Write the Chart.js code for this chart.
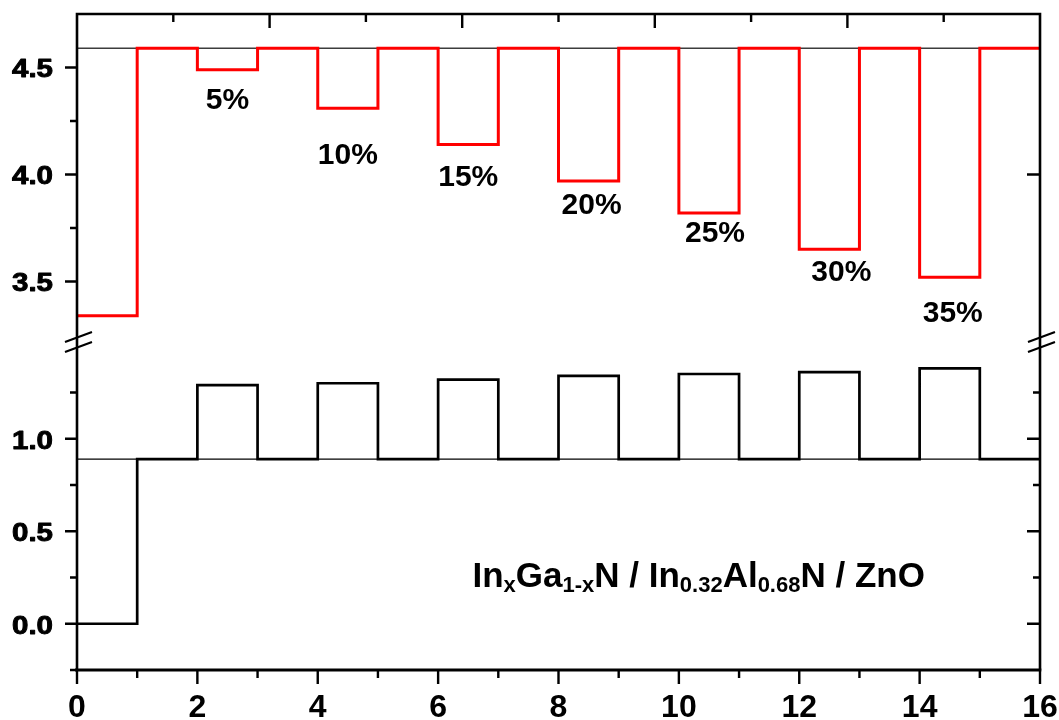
<!DOCTYPE html>
<html>
<head>
<meta charset="utf-8">
<script src="https://cdn.jsdelivr.net/npm/chart.js@4/dist/chart.umd.min.js"></script>
<style>
  html, body { margin: 0; padding: 0; background: #fff; }
  #wrap { width: 1059px; height: 720px; position: relative; }
</style>
</head>
<body>
<div id="wrap"><canvas id="c" width="1059" height="720"></canvas></div>
<script>
// Layer boundaries along the structure (x) and the band level of each layer
const layerEdges = [0, 1, 2, 3, 4, 5, 6, 7, 8, 9, 10, 11, 12, 13, 14, 15, 16];
const conductionBand = [3.34, 4.59, 4.49, 4.59, 4.31, 4.59, 4.14, 4.59, 3.97, 4.59, 3.82, 4.59, 3.65, 4.59, 3.52, 4.59];
const valenceBand = [0.00, 0.89, 1.29, 0.89, 1.30, 0.89, 1.32, 0.89, 1.34, 0.89, 1.35, 0.89, 1.36, 0.89, 1.38, 0.89];
const conductionRef = 4.59;
const valenceRef = 0.89;

// Indium content labels placed under each well
const wellLabels = ['5%', '10%', '15%', '20%', '25%', '30%', '35%'];
const wellLabelX = [2.5, 4.5, 6.5, 8.55, 10.6, 12.7, 14.55];
const wellLabelY = [4.35, 4.09, 3.99, 3.86, 3.73, 3.545, 3.355];

// Tick labels
const xTickLabels = ['0', '2', '4', '6', '8', '10', '12', '14', '16'];
const xMinorTicks = [1, 3, 5, 7, 9, 11, 13, 15];
const upperTickLabels = ['3.5', '4.0', '4.5'];
const upperMinorTicks = [3.75, 4.25];
const lowerTickLabels = ['0.0', '0.5', '1.0'];
const lowerMinorTicks = [-0.25, 0.25, 0.75, 1.25];
const topMajorTicks = [2, 4, 6, 8];
const topMinorTicks = [1, 3, 5, 7, 9];
const rightUpperTicks = [4.0];

// Structure caption anchor (lower panel coordinates)
const captionX = 6.57;
const captionY = 0.196;

function stepPoints(edges, values) {
  const pts = values.map((v, i) => ({ x: edges[i], y: v }));
  pts.push({ x: edges[edges.length - 1], y: values[values.length - 1] });
  return pts;
}

const FONT = '"Liberation Sans", Arial, sans-serif';

const framePlugin = {
  id: 'frame',
  afterDatasetsDraw(chart) {
    const ctx = chart.ctx;
    const a = chart.chartArea;
    const sx = chart.scales.x, sxt = chart.scales.xTop;
    const yt = chart.scales.yTop, yb = chart.scales.yBot;
    ctx.save();
    ctx.strokeStyle = '#000';
    ctx.lineCap = 'butt';

    // frame
    ctx.lineWidth = 2.6;
    ctx.beginPath();
    ctx.moveTo(a.left, a.top); ctx.lineTo(a.right, a.top);
    ctx.moveTo(a.left, a.top - 1.3); ctx.lineTo(a.left, a.bottom);
    ctx.moveTo(a.right, a.top - 1.3); ctx.lineTo(a.right, a.bottom);
    ctx.stroke();
    ctx.lineWidth = 3.2;
    ctx.beginPath();
    ctx.moveTo(a.left - 2, a.bottom); ctx.lineTo(a.right + 1.3, a.bottom);
    ctx.stroke();

    ctx.lineWidth = 2.4;
    const tick = (x1, y1, x2, y2) => { ctx.moveTo(x1, y1); ctx.lineTo(x2, y2); };
    ctx.beginPath();
    // bottom ticks (outward)
    xTickLabels.forEach(l => { const p = sx.getPixelForValue(parseFloat(l)); tick(p, a.bottom, p, a.bottom + 14); });
    xMinorTicks.forEach(v => { const p = sx.getPixelForValue(v); tick(p, a.bottom, p, a.bottom + 8); });
    // top ticks (inward)
    topMajorTicks.forEach(v => { const p = sxt.getPixelForValue(v); tick(p, a.top, p, a.top + 14); });
    topMinorTicks.forEach(v => { const p = sxt.getPixelForValue(v); tick(p, a.top, p, a.top + 8); });
    // left ticks (outward)
    upperTickLabels.forEach(l => { const p = yt.getPixelForValue(parseFloat(l)); tick(a.left - 12, p, a.left, p); });
    upperMinorTicks.forEach(v => { const p = yt.getPixelForValue(v); tick(a.left - 7, p, a.left, p); });
    lowerTickLabels.forEach(l => { const p = yb.getPixelForValue(parseFloat(l)); tick(a.left - 12, p, a.left, p); });
    lowerMinorTicks.forEach(v => { const p = yb.getPixelForValue(v); tick(a.left - 7, p, a.left, p); });
    // right ticks (inward)
    rightUpperTicks.forEach(v => { const p = yt.getPixelForValue(v); tick(a.right - 13, p, a.right, p); });
    lowerTickLabels.forEach(l => { const p = yb.getPixelForValue(parseFloat(l)); tick(a.right - 13, p, a.right, p); });
    lowerMinorTicks.forEach(v => { const p = yb.getPixelForValue(v); if (v > yb.min) tick(a.right - 7, p, a.right, p); });
    ctx.stroke();

    // axis break marks
    const by = yt.bottom;
    ctx.lineWidth = 2.2;
    ctx.beginPath();
    [a.left + 1, a.right + 1].forEach(cx => {
      tick(cx - 13, by + 0, cx + 14, by - 10);
      tick(cx - 13, by + 10, cx + 14, by + 0);
    });
    ctx.stroke();

    // tick labels (y labels are set wide and heavy)
    ctx.fillStyle = '#000';
    ctx.font = 'bold 25px ' + FONT;
    ctx.textAlign = 'right';
    ctx.textBaseline = 'alphabetic';
    ctx.lineWidth = 0.9;
    ctx.lineJoin = 'round';
    const yLabel = (text, py) => {
      ctx.save();
      ctx.translate(a.left - 24, py + 10);
      ctx.scale(1.18, 1);
      ctx.fillText(text, 0, 0);
      ctx.strokeText(text, 0, 0);
      ctx.restore();
    };
    upperTickLabels.forEach(l => yLabel(l, yt.getPixelForValue(parseFloat(l))));
    lowerTickLabels.forEach(l => yLabel(l, yb.getPixelForValue(parseFloat(l))));

    ctx.font = 'bold 32px ' + FONT;
    ctx.textAlign = 'center';
    xTickLabels.forEach(l => ctx.fillText(l, sx.getPixelForValue(parseFloat(l)), 717));

    // well labels
    ctx.font = 'bold 30px ' + FONT;
    ctx.textAlign = 'center';
    ctx.textBaseline = 'middle';
    wellLabels.forEach((t, i) => ctx.fillText(t, sx.getPixelForValue(wellLabelX[i]), yt.getPixelForValue(wellLabelY[i]) + 1));

    // structure caption with subscripts
    const parts = [
      ['In', false], ['x', true], ['Ga', false], ['1-x', true], ['N / In', false],
      ['0.32', true], ['Al', false], ['0.68', true], ['N / ZnO', false]
    ];
    let cx = sx.getPixelForValue(captionX);
    const cy = yb.getPixelForValue(captionY);
    ctx.textAlign = 'left';
    ctx.textBaseline = 'alphabetic';
    parts.forEach(([t, sub]) => {
      ctx.font = (sub ? 'bold 22px ' : 'bold 35px ') + FONT;
      ctx.fillText(t, cx, sub ? cy + 5 : cy);
      cx += ctx.measureText(t).width;
    });
    ctx.restore();
  }
};

new Chart(document.getElementById('c'), {
  type: 'line',
  data: {
    datasets: [
      {
        data: stepPoints(layerEdges, conductionBand),
        yAxisID: 'yTop', xAxisID: 'x',
        stepped: 'before', borderColor: '#ff0000', borderWidth: 3,
        pointRadius: 0, fill: false
      },
      {
        data: stepPoints(layerEdges, valenceBand),
        yAxisID: 'yBot', xAxisID: 'x',
        stepped: 'before', borderColor: '#000000', borderWidth: 2.7,
        pointRadius: 0, fill: false
      },
      {
        data: [{ x: layerEdges[0], y: conductionRef }, { x: layerEdges[layerEdges.length - 1], y: conductionRef }],
        yAxisID: 'yTop', xAxisID: 'x',
        borderColor: '#3c3c3c', borderWidth: 1.3, pointRadius: 0, fill: false
      },
      {
        data: [{ x: layerEdges[0], y: valenceRef }, { x: layerEdges[layerEdges.length - 1], y: valenceRef }],
        yAxisID: 'yBot', xAxisID: 'x',
        borderColor: '#000000', borderWidth: 1.3, pointRadius: 0, fill: false
      }
    ]
  },
  options: {
    responsive: false,
    devicePixelRatio: 1,
    animation: false,
    events: [],
    layout: { padding: { top: 14, right: 19, left: 0, bottom: 0 } },
    plugins: { legend: { display: false }, tooltip: { enabled: false } },
    scales: {
      x: {
        type: 'linear', position: 'bottom', min: 0, max: 16,
        ticks: { display: false }, grid: { display: false, drawTicks: false }, border: { display: false },
        afterFit(s) { s.height = 50; }
      },
      xTop: {
        type: 'linear', position: 'top', min: 0, max: 10, display: false
      },
      yBot: {
        type: 'linear', position: 'left', stack: 'band', stackWeight: 1,
        min: -0.25, max: 1.523,
        ticks: { display: false }, grid: { display: false, drawTicks: false }, border: { display: false },
        afterFit(s) { s.width = 77; }
      },
      yTop: {
        type: 'linear', position: 'left', stack: 'band', stackWeight: 1,
        min: 3.217, max: 4.75,
        ticks: { display: false }, grid: { display: false, drawTicks: false }, border: { display: false },
        afterFit(s) { s.width = 77; }
      }
    }
  },
  plugins: [framePlugin]
});
</script>
</body>
</html>
